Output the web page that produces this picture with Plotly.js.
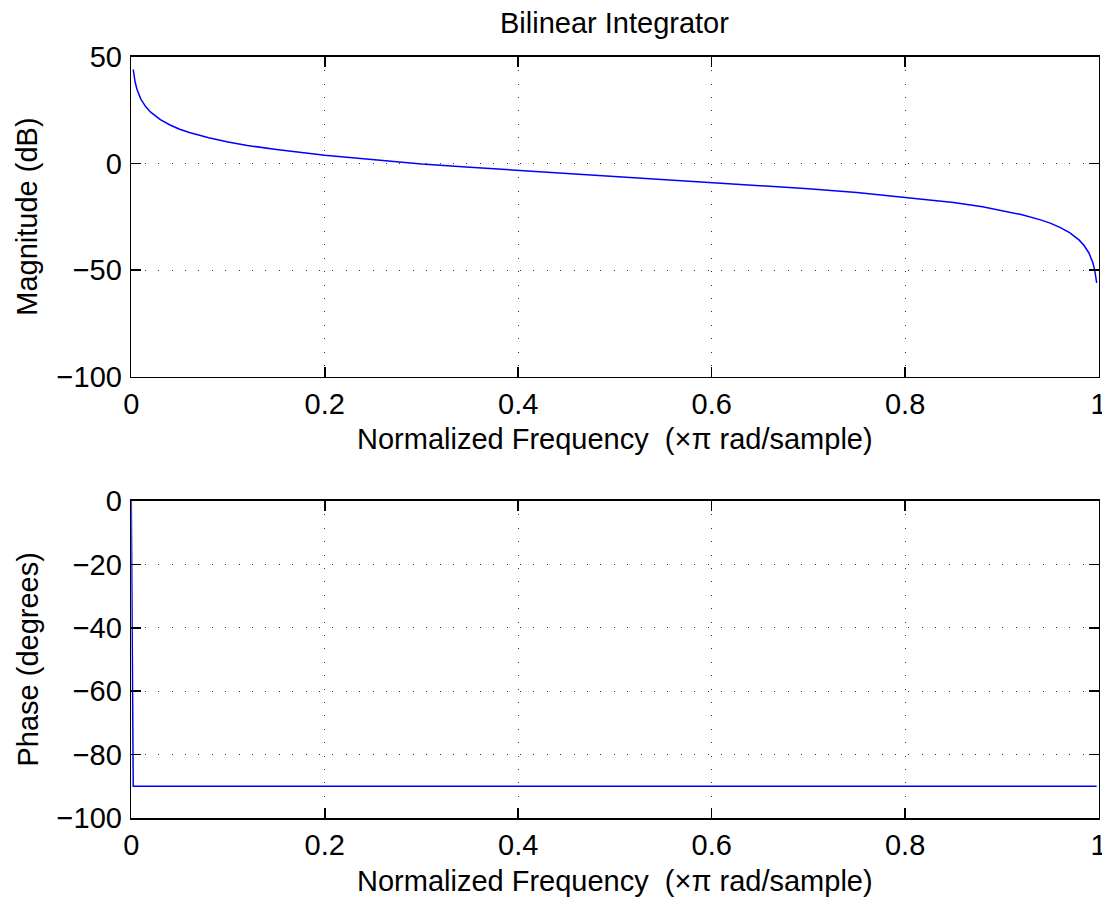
<!DOCTYPE html>
<html>
<head>
<meta charset="utf-8">
<script src="https://cdn.plot.ly/plotly-3.0.1.min.js"></script>
<style>
html,body{margin:0;padding:0;background:#fff;}
#chart{width:1102px;height:897px;}
</style>
</head>
<body>
<div id="chart"></div>
<script>
// Normalized frequency (x pi rad/sample) and magnitude (dB)
const magFreq = [0.002, 0.004, 0.006, 0.01, 0.015, 0.02, 0.03, 0.04, 0.05, 0.06, 0.08, 0.1, 0.12, 0.15,
  0.2, 0.25, 0.3, 0.35, 0.4, 0.45, 0.5, 0.55, 0.6, 0.65, 0.7, 0.75, 0.8, 0.85, 0.88, 0.9, 0.92,
  0.94, 0.95, 0.96, 0.97, 0.98, 0.985, 0.99, 0.994, 0.996, 0.998];
const magDb = [44, 38, 34.5, 30, 26.5, 24, 20.5, 18, 16, 14.5, 12, 10, 8.4, 6.5,
  3.8, 1.6, -0.3, -1.8, -3.2, -4.6, -6.0, -7.4, -8.8, -10.3, -11.9, -13.6, -15.8, -18.3, -20.3, -22, -24,
  -26.5, -28, -30, -32.5, -36, -38.5, -42, -46.5, -50, -56];

// Phase (degrees)
const phaseFreq = [0, 0.002, 0.998];
const phaseDeg = [0, -90, -90];

const xTicks = [0, 0.2, 0.4, 0.6, 0.8, 1];
const xTickText = ["0", "0.2", "0.4", "0.6", "0.8", "1"];
const magTicks = [-100, -50, 0, 50];
const phaseTicks = [-100, -80, -60, -40, -20, 0];

const titleText = "Bilinear Integrator";
const xTitle = "Normalized Frequency  (\u00D7\u03C0 rad/sample)";
const magTitle = "Magnitude (dB)";
const phaseTitle = "Phase (degrees)";

const W = 1102, H = 897;
const FONT = {family: "Liberation Sans, Arial, sans-serif", size: 29, color: "#000"};

const xL = 131.3, xR = 1098.6;
const topT = 56.7, topB = 376.7;
const botT = 501, botB = 818;

function axisCommon() {
  return {
    showline: true, linecolor: "#000", linewidth: 1.6, mirror: "ticks",
    ticks: "inside", ticklen: 10, tickwidth: 1.6, tickcolor: "#000",
    showgrid: true, gridcolor: "#333", gridwidth: 1, griddash: "1px,12.4px",
    zeroline: false, tickfont: FONT, fixedrange: true, ticklabeloverflow: "allow"
  };
}

const xa = Object.assign(axisCommon(), {
  domain: [xL / W, xR / W], range: [0, 1], tickmode: "array", tickvals: xTicks, ticktext: xTickText,
  anchor: "y", ticklabelstandoff: 1
});
const xa2 = Object.assign(axisCommon(), {
  domain: [xL / W, xR / W], range: [0, 1], tickmode: "array", tickvals: xTicks, ticktext: xTickText,
  anchor: "y2", ticklabelstandoff: 1
});
const ya = Object.assign(axisCommon(), {
  domain: [1 - topB / H, 1 - topT / H], range: [-100, 50], tickmode: "array", tickvals: magTicks,
  anchor: "x", ticklabelstandoff: 2
});
const ya2 = Object.assign(axisCommon(), {
  domain: [1 - botB / H, 1 - botT / H], range: [-100, 0], tickmode: "array", tickvals: phaseTicks,
  anchor: "x2", ticklabelstandoff: 2
});

const traces = [
  {x: magFreq, y: magDb, type: "scatter", mode: "lines", line: {color: "#0000ff", width: 1.5},
   xaxis: "x", yaxis: "y", hoverinfo: "none"},
  {x: phaseFreq, y: phaseDeg, type: "scatter", mode: "lines", line: {color: "#0000ff", width: 1.5},
   xaxis: "x2", yaxis: "y2", hoverinfo: "none"}
];

const cx = (xL + xR) / 2 / W;
const annotations = [
  {text: titleText, xref: "paper", yref: "paper", x: cx, y: 1 - 23 / H, xanchor: "center", yanchor: "middle", showarrow: false, font: FONT},
  {text: xTitle, xref: "paper", yref: "paper", x: cx, y: 1 - 439 / H, xanchor: "center", yanchor: "middle", showarrow: false, font: FONT},
  {text: xTitle, xref: "paper", yref: "paper", x: cx, y: 1 - 881 / H, xanchor: "center", yanchor: "middle", showarrow: false, font: FONT},
  {text: magTitle, xref: "paper", yref: "paper", x: 27 / W, y: 1 - (topT + topB) / 2 / H, xanchor: "center", yanchor: "middle", textangle: -90, showarrow: false, font: FONT},
  {text: phaseTitle, xref: "paper", yref: "paper", x: 27 / W, y: 1 - (botT + botB) / 2 / H, xanchor: "center", yanchor: "middle", textangle: -90, showarrow: false, font: FONT}
];

const layout = {
  width: W, height: H, margin: {l: 0, r: 0, t: 0, b: 0},
  paper_bgcolor: "#fff", plot_bgcolor: "#fff", showlegend: false,
  font: FONT,
  xaxis: xa, yaxis: ya, xaxis2: xa2, yaxis2: ya2,
  annotations: annotations
};

Plotly.newPlot("chart", traces, layout, {staticPlot: true, displayModeBar: false});
</script>
</body>
</html>
